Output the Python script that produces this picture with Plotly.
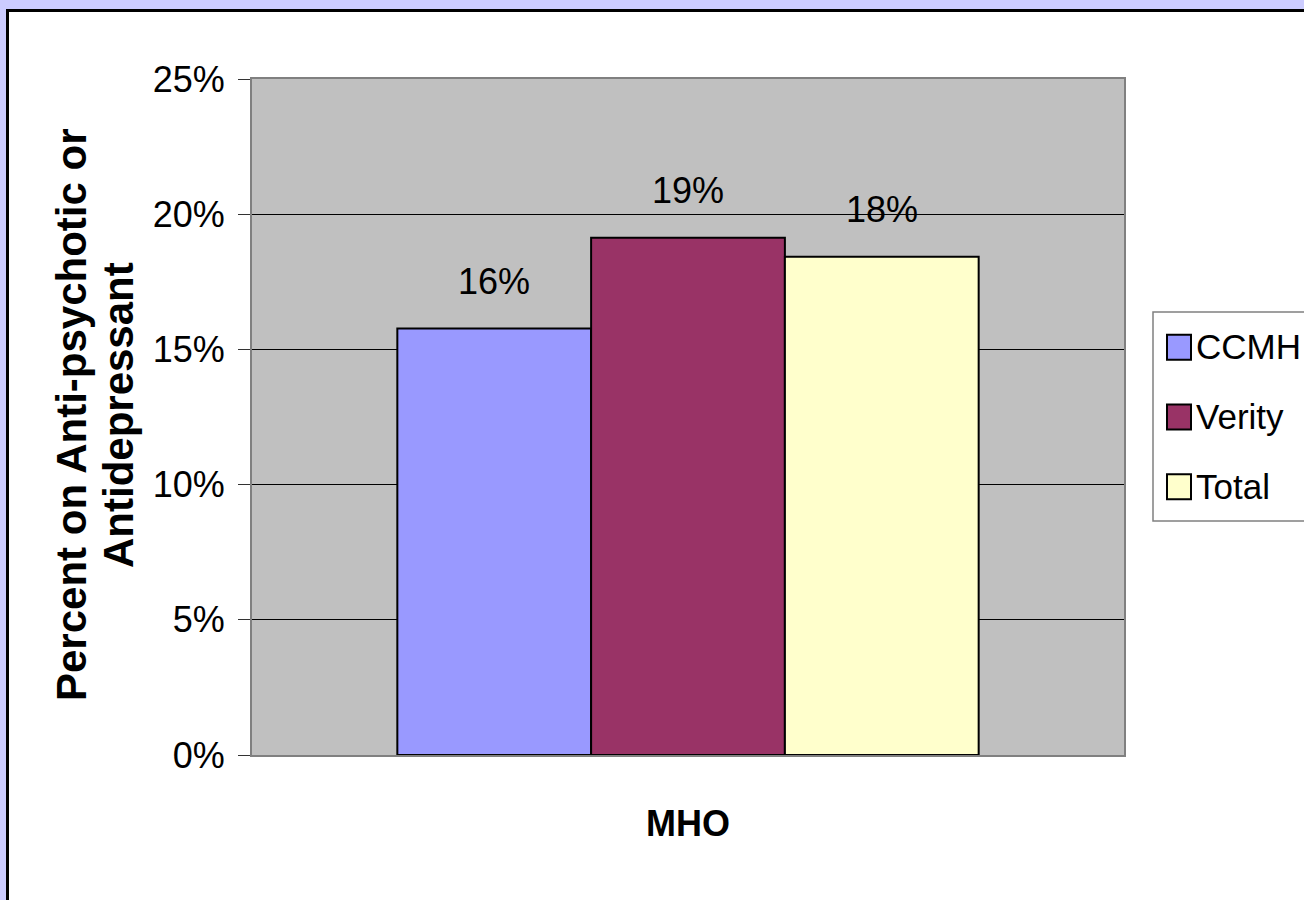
import plotly.graph_objects as go

# Chart data
categories = ["MHO"]
series_names = ["CCMH", "Verity", "Total"]
series_values = [0.1577, 0.1913, 0.1843]
series_colors = ["#9999FF", "#993366", "#FFFFCC"]
y_ticks = [0, 0.05, 0.10, 0.15, 0.20, 0.25]
y_title_lines = ["Percent on Anti-psychotic or", "Antidepressant"]
x_title = "MHO"

# Figure geometry (pixels)
FIG_W, FIG_H = 1304, 900
M_L, M_R, M_T, M_B = 252, 180, 79, 145
PLOT_W = FIG_W - M_L - M_R
PLOT_H = FIG_H - M_T - M_B
BARGAP = 1 / 3

FONT = "Liberation Sans, Arial, sans-serif"


def px_x(px):
    """Horizontal pixel position -> paper coordinate."""
    return (px - M_L) / PLOT_W


def px_y(py):
    """Vertical pixel position (from top) -> paper coordinate."""
    return (FIG_H - M_B - py) / PLOT_H


fig = go.Figure()

for name, val, col in zip(series_names, series_values, series_colors):
    fig.add_trace(go.Bar(
        x=categories,
        y=[val],
        name=name,
        marker=dict(color=col, line=dict(color="black", width=2)),
        showlegend=False,
        hoverinfo="name+y",
    ))

# Value labels above each bar
n = len(series_names)
bar_w = (1 - BARGAP) / n
annotations = []
for i, val in enumerate(series_values):
    annotations.append(dict(
        x=(i - (n - 1) / 2) * bar_w, xref="x",
        y=val, yref="y",
        text=format(val, ".0%"),
        showarrow=False, yanchor="bottom", xanchor="center",
        yshift=25,
        font=dict(family=FONT, size=36, color="black"),
    ))

# Vertical axis title, two lines
for k, line in enumerate(y_title_lines):
    annotations.append(dict(
        x=px_x(71 + 47 * k), xref="paper",
        y=px_y(415), yref="paper",
        text=f"<b>{line}</b>", textangle=-90,
        showarrow=False, xanchor="center", yanchor="middle",
        font=dict(family=FONT, size=42, color="black"),
    ))

# Horizontal axis title
annotations.append(dict(
    x=0.5, xref="paper", y=px_y(824), yref="paper",
    text=f"<b>{x_title}</b>", showarrow=False,
    xanchor="center", yanchor="middle",
    font=dict(family=FONT, size=36, color="black"),
))

# Legend (drawn manually so the swatches are full size)
LEG_X0, LEG_Y0, LEG_Y1 = 1153, 312, 521
row_h = (LEG_Y1 - LEG_Y0) / n
shapes = []
shapes.append(dict(
    type="rect", xref="paper", yref="paper",
    x0=px_x(LEG_X0), x1=px_x(FIG_W + 20), y0=px_y(LEG_Y0), y1=px_y(LEG_Y1),
    line=dict(color="#808080", width=1.5), fillcolor="white", layer="above",
))
for k, (name, col) in enumerate(zip(series_names, series_colors)):
    cy = LEG_Y0 + row_h * (k + 0.5)
    shapes.append(dict(
        type="rect", xref="paper", yref="paper",
        x0=px_x(1167), x1=px_x(1191), y0=px_y(cy - 12), y1=px_y(cy + 13),
        line=dict(color="black", width=2), fillcolor=col, layer="above",
    ))
    annotations.append(dict(
        x=px_x(1194), xref="paper", y=px_y(cy), yref="paper",
        text=name, showarrow=False, xanchor="left", yanchor="middle",
        font=dict(family=FONT, size=35, color="black"),
    ))

# Outer frame: lavender margin and black border of the chart panel
shapes += [
    dict(type="rect", xref="paper", yref="paper",
         x0=px_x(-10), x1=px_x(6), y0=px_y(-10), y1=px_y(FIG_H + 10),
         line=dict(width=0), fillcolor="#CCCCFF", layer="above"),
    dict(type="rect", xref="paper", yref="paper",
         x0=px_x(-10), x1=px_x(FIG_W + 10), y0=px_y(-10), y1=px_y(9),
         line=dict(width=0), fillcolor="#CCCCFF", layer="above"),
    dict(type="line", xref="paper", yref="paper",
         x0=px_x(7.5), x1=px_x(FIG_W + 10), y0=px_y(10.5), y1=px_y(10.5),
         line=dict(color="black", width=3), layer="above"),
    dict(type="line", xref="paper", yref="paper",
         x0=px_x(7.5), x1=px_x(7.5), y0=px_y(9), y1=px_y(FIG_H + 10),
         line=dict(color="black", width=3), layer="above"),
]

fig.update_layout(
    width=FIG_W, height=FIG_H,
    margin=dict(l=M_L, r=M_R, t=M_T, b=M_B, pad=0),
    paper_bgcolor="white",
    plot_bgcolor="#C0C0C0",
    barmode="group",
    bargap=BARGAP,
    bargroupgap=0,
    showlegend=False,
    annotations=annotations,
    shapes=shapes,
    font=dict(family=FONT, color="black"),
)

fig.update_xaxes(
    showticklabels=False, ticks="", showgrid=False,
    showline=True, linecolor="#808080", linewidth=2, mirror=True,
    range=[-0.5, 0.5],
)
fig.update_yaxes(
    range=[0, 0.25], tickvals=y_ticks, tickformat=".0%",
    tickfont=dict(family=FONT, size=36, color="black"),
    ticks="outside", ticklen=12, tickcolor="#333333", tickwidth=1,
    ticklabelstandoff=6,
    showgrid=True, gridcolor="black", gridwidth=1,
    showline=True, linecolor="#808080", linewidth=2, mirror=True,
    zeroline=False,
)

fig.write_html("out.html")
